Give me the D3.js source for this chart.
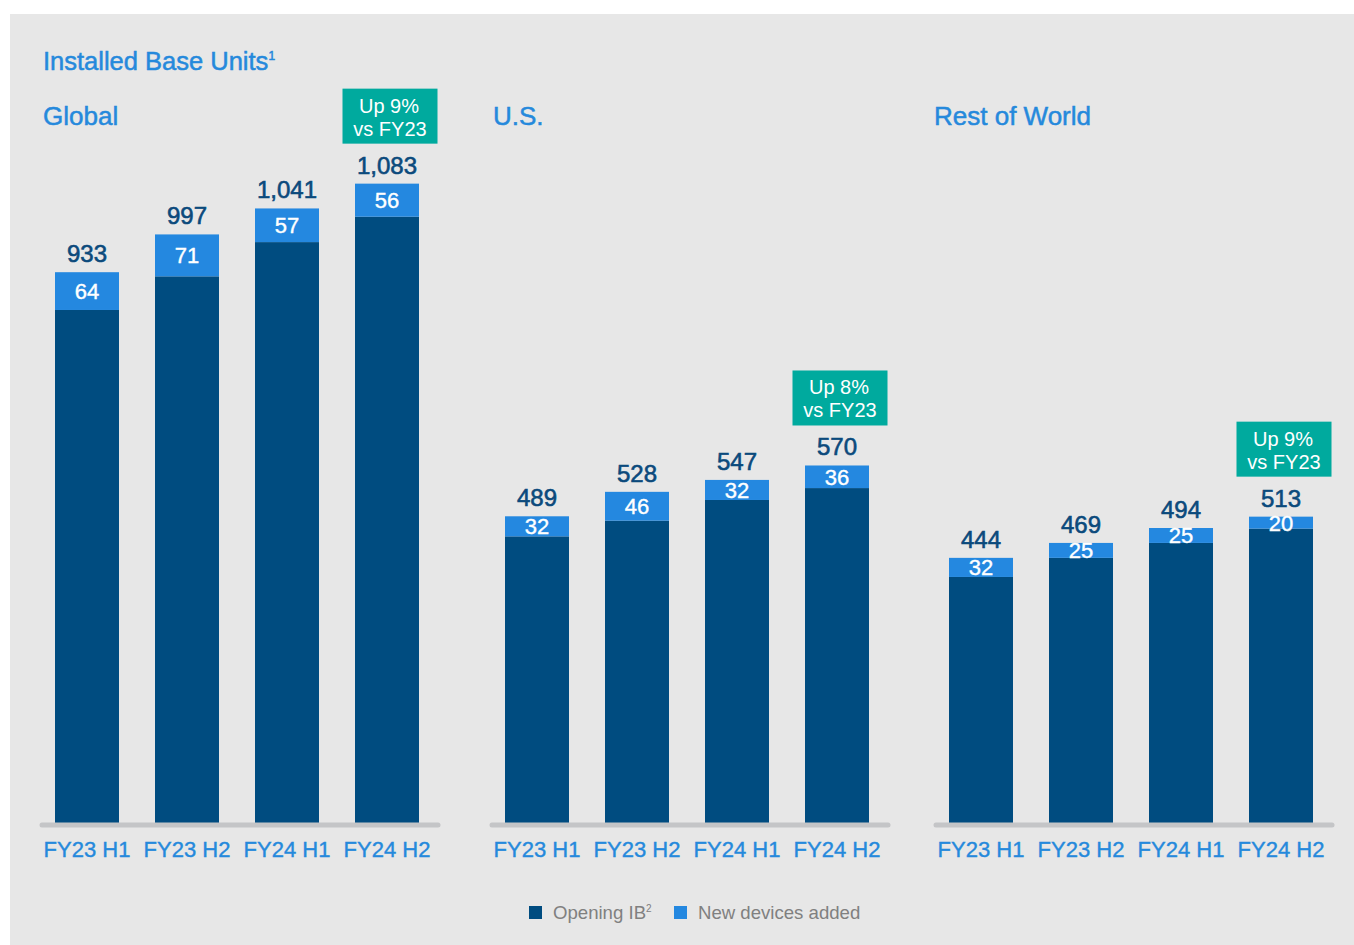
<!DOCTYPE html>
<html>
<head>
<meta charset="utf-8">
<script src="https://cdn.jsdelivr.net/npm/d3@7"></script>
<style>
    body { margin: 0; background: #fff; }
    svg { display: block; font-family: "Liberation Sans", Arial, Helvetica, sans-serif; }
</style>
</head>
<body>
<svg class="ib-chart"></svg>
<script>
'use strict';

var categories = ['FY23 H1', 'FY23 H2', 'FY24 H1', 'FY24 H2'];
var regions = ['Global', 'U.S.', 'Rest of World'];

var globalTotal = [933, 997, 1041, 1083],
    globalNew = [64, 71, 57, 56];
var usTotal = [489, 528, 547, 570],
    usNew = [32, 46, 32, 36];
var rowTotal = [444, 469, 494, 513],
    rowNew = [32, 25, 25, 20];

var growthLabels = ['Up 9%', 'Up 8%', 'Up 9%'];
var growthSub = 'vs FY23';
var seriesNames = ['Opening IB', 'New devices added'];

var colors = {
    opening: '#004c80',
    added: '#2488e0',
    title: '#2589dc',
    total: '#0b4a7c',
    badge: '#00aa9e',
    panel: '#e7e7e7',
    axis: '#c4c5c7',
    legend: '#808080'
};

var svgWidth = 1354,
    svgHeight = 945,
    baseline = 823,
    plotTop = 150;

var svg = d3.select('svg.ib-chart')
    .attr('width', svgWidth)
    .attr('height', svgHeight);

// the slide font is a bit heavier than Liberation regular, fake it with a thin outline
var heavy = function(sel, color, w) {
    sel.attr('stroke', color).attr('stroke-width', w).attr('paint-order', 'stroke');
};

// grey slide panel
svg.append('rect')
    .attr('x', 10).attr('y', 14)
    .attr('width', svgWidth - 10).attr('height', svgHeight - 14)
    .attr('fill', colors.panel);

var title = svg.append('text')
    .attr('x', 43).attr('y', 70)
    .attr('fill', colors.title)
    .style('font-size', '25.5px')
    .text('Installed Base Units');
title.append('tspan')
    .attr('dy', -10)
    .style('font-size', '12px')
    .text('1');
heavy(title, colors.title, 0.5);

// one block per region; the source slide uses a slightly different scale for U.S.
var panels = [
    { name: regions[0], total: globalTotal, added: globalNew, x0: 37, yMax: 1140 },
    { name: regions[1], total: usTotal, added: usNew, x0: 487, yMax: 1073 },
    { name: regions[2], total: rowTotal, added: rowNew, x0: 931, yMax: 1127 }
];

var drawPanel = function(p, idx) {
    var rows = categories.map(function(c, i) {
        return { cat: c, total: p.total[i], added: p.added[i], opening: p.total[i] - p.added[i] };
    });

    var xScale = d3.scaleBand().domain(categories)
        .range([p.x0, p.x0 + 400])
        .paddingInner(0.36).paddingOuter(0.18);

    var yScale = d3.scaleLinear().domain([0, p.yMax]).range([baseline, plotTop]);

    var g = svg.append('g').attr('class', 'panel');

    var rt = g.append('text')
        .attr('x', idx === 2 ? p.x0 + 3 : p.x0 + 6).attr('y', 125)
        .attr('fill', colors.title)
        .style('font-size', '26px')
        .text(p.name);
    heavy(rt, colors.title, 0.5);

    // opening base
    g.selectAll('rect.opening').data(rows).enter().append('rect')
        .attr('class', 'opening')
        .attr('x', function(d) { return xScale(d.cat); })
        .attr('width', xScale.bandwidth())
        .attr('y', function(d) { return yScale(d.opening); })
        .attr('height', function(d) { return baseline - yScale(d.opening); })
        .attr('fill', colors.opening);

    // new devices on top
    g.selectAll('rect.added').data(rows).enter().append('rect')
        .attr('class', 'added')
        .attr('x', function(d) { return xScale(d.cat); })
        .attr('width', xScale.bandwidth())
        .attr('y', function(d) { return yScale(d.total); })
        .attr('height', function(d) { return yScale(d.opening) - yScale(d.total); })
        .attr('fill', colors.added);

    var al = g.selectAll('text.added-label').data(rows).enter().append('text')
        .attr('class', 'added-label')
        .attr('x', function(d) { return xScale(d.cat) + xScale.bandwidth() / 2; })
        .attr('y', function(d) { return (yScale(d.total) + yScale(d.opening)) / 2 + 8; })
        .attr('text-anchor', 'middle')
        .attr('fill', '#fff')
        .style('font-size', '22px')
        .text(function(d) { return d.added; });
    heavy(al, '#fff', 0.4);

    var tl = g.selectAll('text.total-label').data(rows).enter().append('text')
        .attr('class', 'total-label')
        .attr('x', function(d) { return xScale(d.cat) + xScale.bandwidth() / 2; })
        .attr('y', function(d) { return yScale(d.total) - 10; })
        .attr('text-anchor', 'middle')
        .attr('fill', colors.total)
        .style('font-size', '24px')
        .text(function(d) { return d3.format(',')(d.total); });
    heavy(tl, colors.total, 0.6);

    // growth badge above the last bar
    var last = rows[rows.length - 1],
        bx = xScale(last.cat) + xScale.bandwidth() / 2 + 3,
        by = yScale(last.total) - 40 - 55;
    g.append('rect')
        .attr('x', bx - 47.5).attr('y', by)
        .attr('width', 95).attr('height', 55)
        .attr('fill', colors.badge);
    g.append('text')
        .attr('x', bx - 1).attr('y', by + 24)
        .attr('text-anchor', 'middle')
        .attr('fill', '#fff')
        .style('font-size', '20px')
        .text(growthLabels[idx]);
    g.append('text')
        .attr('x', bx).attr('y', by + 47)
        .attr('text-anchor', 'middle')
        .attr('fill', '#fff')
        .style('font-size', '20px')
        .text(growthSub);

    // thick rounded baseline
    g.append('line')
        .attr('x1', p.x0 + 5).attr('x2', p.x0 + 401)
        .attr('y1', baseline + 2).attr('y2', baseline + 2)
        .attr('stroke', colors.axis)
        .attr('stroke-width', 5)
        .attr('stroke-linecap', 'round');

    var xAxis = d3.axisBottom(xScale).tickSize(0).tickPadding(0);
    var ax = g.append('g')
        .attr('transform', 'translate(0,' + (baseline + 18) + ')')
        .call(xAxis);
    ax.select('.domain').remove();
    ax.selectAll('text')
        .attr('fill', colors.title)
        .style('font-size', '22px')
        .style('font-family', '"Liberation Sans", Arial, sans-serif');
    heavy(ax.selectAll('text'), colors.title, 0.4);
};

panels.forEach(drawPanel);

// legend
var legend = svg.append('g').attr('transform', 'translate(529, 906)');
legend.append('rect').attr('width', 13).attr('height', 13).attr('fill', colors.opening);
var t1 = legend.append('text')
    .attr('x', 24).attr('y', 13)
    .attr('fill', colors.legend)
    .style('font-size', '18.6px')
    .text(seriesNames[0]);
t1.append('tspan').attr('dy', -7).style('font-size', '10px').text('2');
legend.append('rect').attr('x', 145).attr('width', 13).attr('height', 13).attr('fill', colors.added);
legend.append('text')
    .attr('x', 169).attr('y', 13)
    .attr('fill', colors.legend)
    .style('font-size', '18.6px')
    .text(seriesNames[1]);
</script>
</body>
</html>
